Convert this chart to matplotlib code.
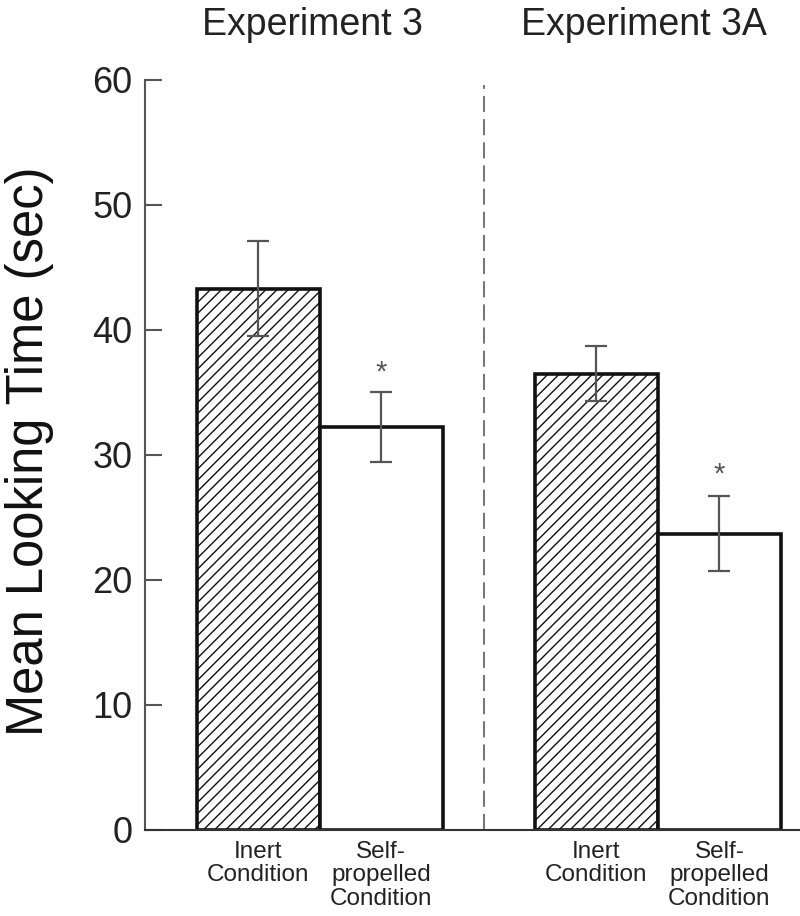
import matplotlib.pyplot as plt

plt.rcParams['font.family'] = ['Liberation Sans', 'DejaVu Sans']
plt.rcParams['hatch.linewidth'] = 1.0

# values
groups = ['Experiment 3', 'Experiment 3A']
conditions = ['Inert\nCondition', 'Self-\npropelled\nCondition']
means = [43.3, 32.2, 36.5, 23.7]
errors = [3.8, 2.8, 2.2, 3.0]
hatches = ['///', '', '///', '']
starred = [False, True, False, True]
star_y = [None, 36.6, None, 28.4]
labels = [conditions[0], conditions[1], conditions[0], conditions[1]]

positions = [0.92, 1.92, 3.67, 4.67]
divider_x = 2.76

fig = plt.figure(figsize=(8, 9.16), dpi=100)
ax = fig.add_axes([0.18125, 0.0939, 0.81875, 0.8188])

for x, m, e, h in zip(positions, means, errors, hatches):
    ax.bar(x, m, width=1.0, color='white', edgecolor='#111111',
           linewidth=2.6, hatch=h, zorder=2)
    ax.errorbar(x, m, yerr=e, color='#555555', elinewidth=1.6,
                capsize=8, capthick=1.6, zorder=3)

for x, s, y in zip(positions, starred, star_y):
    if s:
        ax.text(x, y, '*', ha='center', va='center', fontsize=21,
                color='#555555')

ax.axvline(divider_x, ymin=0, ymax=0.993, color='#777777', lw=1.45,
           linestyle=(0, (8, 3.5)), zorder=1)

ax.set_xlim(0, 5.325)
ax.set_ylim(0, 60)
ax.set_yticks(range(0, 61, 10))
ax.tick_params(axis='y', direction='in', length=12, width=1.5,
               labelsize=26, pad=9, colors='#555555', labelcolor='#222222')
ax.set_xticks([])

for side in ['top', 'right']:
    ax.spines[side].set_visible(False)
ax.spines['left'].set_linewidth(1.5)
ax.spines['bottom'].set_linewidth(1.5)
ax.spines['left'].set_color('#555555')
ax.spines['bottom'].set_color('#333333')

for x, lab in zip(positions, labels):
    ax.text(x, -0.9, lab, ha='center', va='top', fontsize=17.5,
            color='#222222', linespacing=1.07)

fig.text(312 / 800, 1 - 25 / 916, groups[0], ha='center', va='center',
         fontsize=27, color='#222222')
fig.text(644 / 800, 1 - 25 / 916, groups[1], ha='center', va='center',
         fontsize=27, color='#222222')
fig.text(30 / 800, 1 - 451 / 916, 'Mean Looking Time (sec)', rotation=90,
         ha='center', va='center', fontsize=36.5, color='#111111')

fig.savefig('out.png', dpi=100)
